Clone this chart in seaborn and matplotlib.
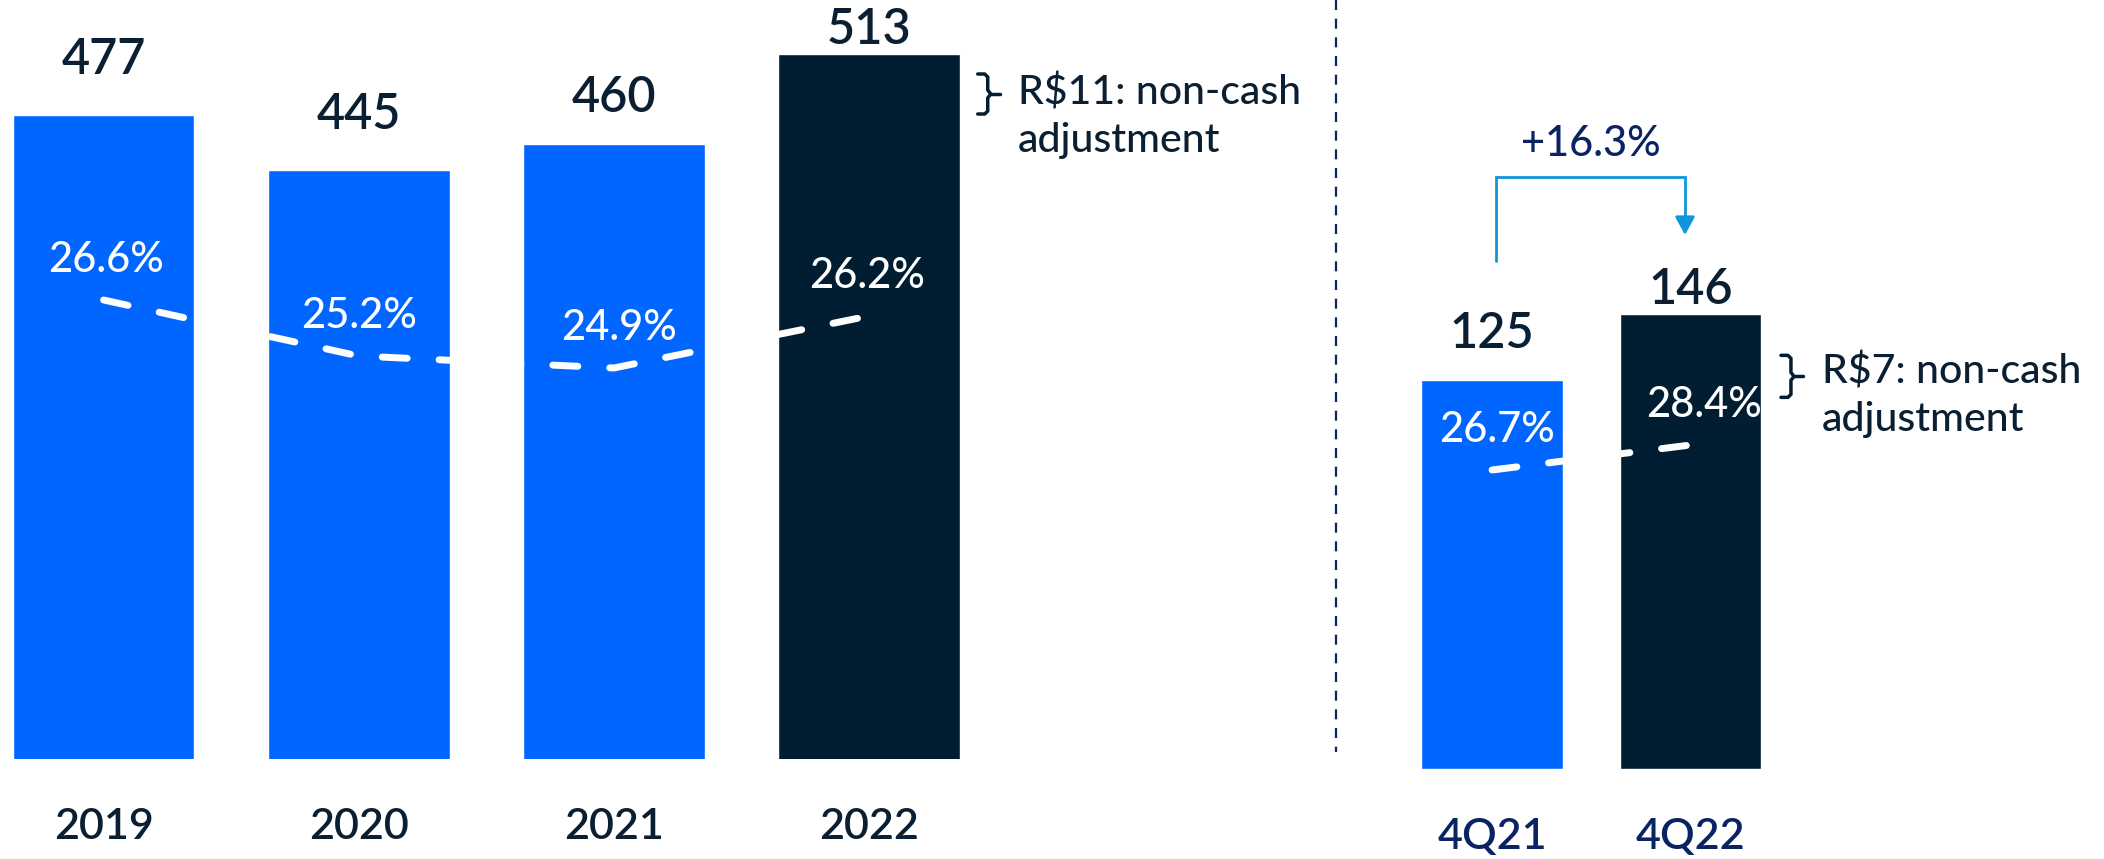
import numpy as np
import pandas as pd
import matplotlib
matplotlib.use("Agg")
import matplotlib.pyplot as plt
from matplotlib.lines import Line2D
from matplotlib.transforms import IdentityTransform
import seaborn as sns

# ---------------- data ----------------
years = ["2019", "2020", "2021", "2022"]
year_values = [477, 445, 460, 513]
year_margins = [26.6, 25.2, 24.9, 26.2]

quarters = ["4Q21", "4Q22"]
quarter_values = [125, 146]
quarter_margins = [26.7, 28.4]

growth_label = "+16.3%"
note_year = ["R$11: non-cash", "adjustment"]
note_quarter = ["R$7: non-cash", "adjustment"]

# ---------------- style ----------------
sns.set_theme(style="white")
plt.rcParams["font.family"] = ["Lato", "DejaVu Sans"]

BLUE = "#0066FF"
DARK = "#011D32"
TXT = "#0B1F33"
NAVY = "#0A2463"
ARROW = "#0E96DC"

W, H = 2104, 859
fig = plt.figure(figsize=(W / 100, H / 100), dpi=100)
fig.patch.set_facecolor("white")


def px_axes(left, top, right, bottom):
    return [left / W, 1 - bottom / H, (right - left) / W, (bottom - top) / H]


def draw_panel(rect, cats, vals, margins, colors, xlim, ylim, mlim,
               val_off_px, pct_dx_px, tick_color):
    ax = fig.add_axes(rect)
    df = pd.DataFrame({"cat": cats, "val": vals})
    sns.barplot(data=df, x="cat", y="val", hue="cat", palette=colors,
                width=0.712, legend=False, ax=ax, saturation=1)
    ax.set_xlim(*xlim)
    ax.set_ylim(*ylim)
    ax.set_facecolor("none")
    for s in ax.spines.values():
        s.set_visible(False)
    ax.set_yticks([])
    ax.set_xlabel("")
    ax.set_ylabel("")
    ax.tick_params(axis="x", length=0, pad=35, labelsize=31, labelcolor=tick_color)
    for lab in ax.get_xticklabels():
        lab.set_fontweight("semibold")
    for i, v in enumerate(vals):
        ax.annotate(f"{v}", (i, v), xytext=(0, val_off_px[i] * 0.72),
                    textcoords="offset points", ha="center", va="center",
                    fontsize=35, color=TXT, fontweight="semibold")

    # margin line overlay
    lx = fig.add_axes(rect)
    lx.set_facecolor("none")
    mdf = pd.DataFrame({"x": np.arange(len(margins)), "m": margins})
    sns.lineplot(data=mdf, x="x", y="m", ax=lx, color="white", lw=5,
                 dashes=False, zorder=5)
    ln = lx.lines[0]
    ln.set_dashes((3.6, 4.6))
    ln.set_dash_capstyle("round")
    lx.set_xlim(*xlim)
    lx.set_ylim(*mlim)
    lx.axis("off")
    for i, m in enumerate(margins):
        lx.annotate(f"{m:.1f}%", (i, m), xytext=(pct_dx_px[i] * 0.72, 29),
                    textcoords="offset points", ha="center", va="center",
                    fontsize=30, color="white", fontweight="medium")
    return ax, lx


# left panel: years
axL, lxL = draw_panel(px_axes(0, 0, 1335, 759), years, year_values, year_margins,
                      [BLUE, BLUE, BLUE, DARK],
                      xlim=(-0.406, 4.827), ylim=(100, 100 + 759 / 1.707),
                      mlim=(26.6 - 459 / 40, 26.6 + 300 / 40),
                      val_off_px=[55, 55, 46, 24], pct_dx_px=[2, 0, 5, -2],
                      tick_color=TXT)

# right panel: quarters
axR, lxR = draw_panel(px_axes(1335, 0, 2104, 769), quarters, quarter_values, quarter_margins,
                      [BLUE, DARK],
                      xlim=(-0.792, 3.086), ylim=(0, 769 / 3.114),
                      mlim=(26.7 - 299 / 14.7, 26.7 + 470 / 14.7),
                      val_off_px=[46, 24], pct_dx_px=[5, 14],
                      tick_color=NAVY)

fig.canvas.draw()


def brace(ax, i, v, dx, dy0, dy1):
    """Draw a '}' bracket next to bar i (top v), offsets in pixels from bar right/top."""
    bx, by = ax.transData.transform((i + 0.356, v))
    yt, yb = by - dy0, by - dy1
    ym = (yt + yb) / 2
    xv = bx + dx
    pts = [(xv - 10, yt), (xv - 3, yt), (xv, yt - 3), (xv, ym + 4), (xv + 3, ym),
           (xv, ym - 4), (xv, yb + 3), (xv - 3, yb), (xv - 10, yb)]
    xs, ys = zip(*pts)
    fig.add_artist(Line2D(xs, ys, transform=IdentityTransform(), color=DARK, lw=2.5,
                          solid_joinstyle="round"))
    fig.add_artist(Line2D([xv + 3, xv + 12], [ym, ym], transform=IdentityTransform(),
                          color=DARK, lw=2.5))


def note(ax, i, v, lines, dx, dy):
    bx, by = ax.transData.transform((i + 0.356, v))
    for k, t in enumerate(lines):
        fig.text((bx + dx) / W, (by - dy - 48 * k) / H, t, fontsize=29.5, color=TXT,
                 ha="left", va="baseline", fontweight="medium")


brace(axL, 3, year_values[3], 28, 20, 60)
note(axL, 3, year_values[3], note_year, 58, 50)
brace(axR, 1, quarter_values[1], 30, 41, 83)
note(axR, 1, quarter_values[1], note_quarter, 61, 69)

# growth arrow between quarters
y_start = quarter_values[0] + 38
y_top = quarter_values[1] + 44
y_tip = quarter_values[1] + 25.5
axR.plot([0.02, 0.02, 0.973, 0.973], [y_start, y_top, y_top, y_tip + 4],
         color=ARROW, lw=2, solid_joinstyle="miter", clip_on=False, zorder=6)
axR.annotate("", xy=(0.973, y_tip), xytext=(0.973, y_tip + 6),
             arrowprops=dict(arrowstyle="-|>,head_length=0.55,head_width=0.3",
                             color=ARROW, lw=2, mutation_scale=20,
                             shrinkA=0, shrinkB=0), zorder=6)
axR.annotate(growth_label, (0.5, y_top), xytext=(0, 24), textcoords="offset points",
             ha="center", va="center", fontsize=30, color=NAVY, fontweight="medium")

# separator between panels
sep = Line2D([1335.6 / W, 1335.6 / W], [1.0, 1 - 752 / H], transform=fig.transFigure,
             color=NAVY, lw=1.6)
sep.set_dashes((4.5, 3.9))
fig.add_artist(sep)

fig.savefig("out.png", dpi=100, facecolor="white")
